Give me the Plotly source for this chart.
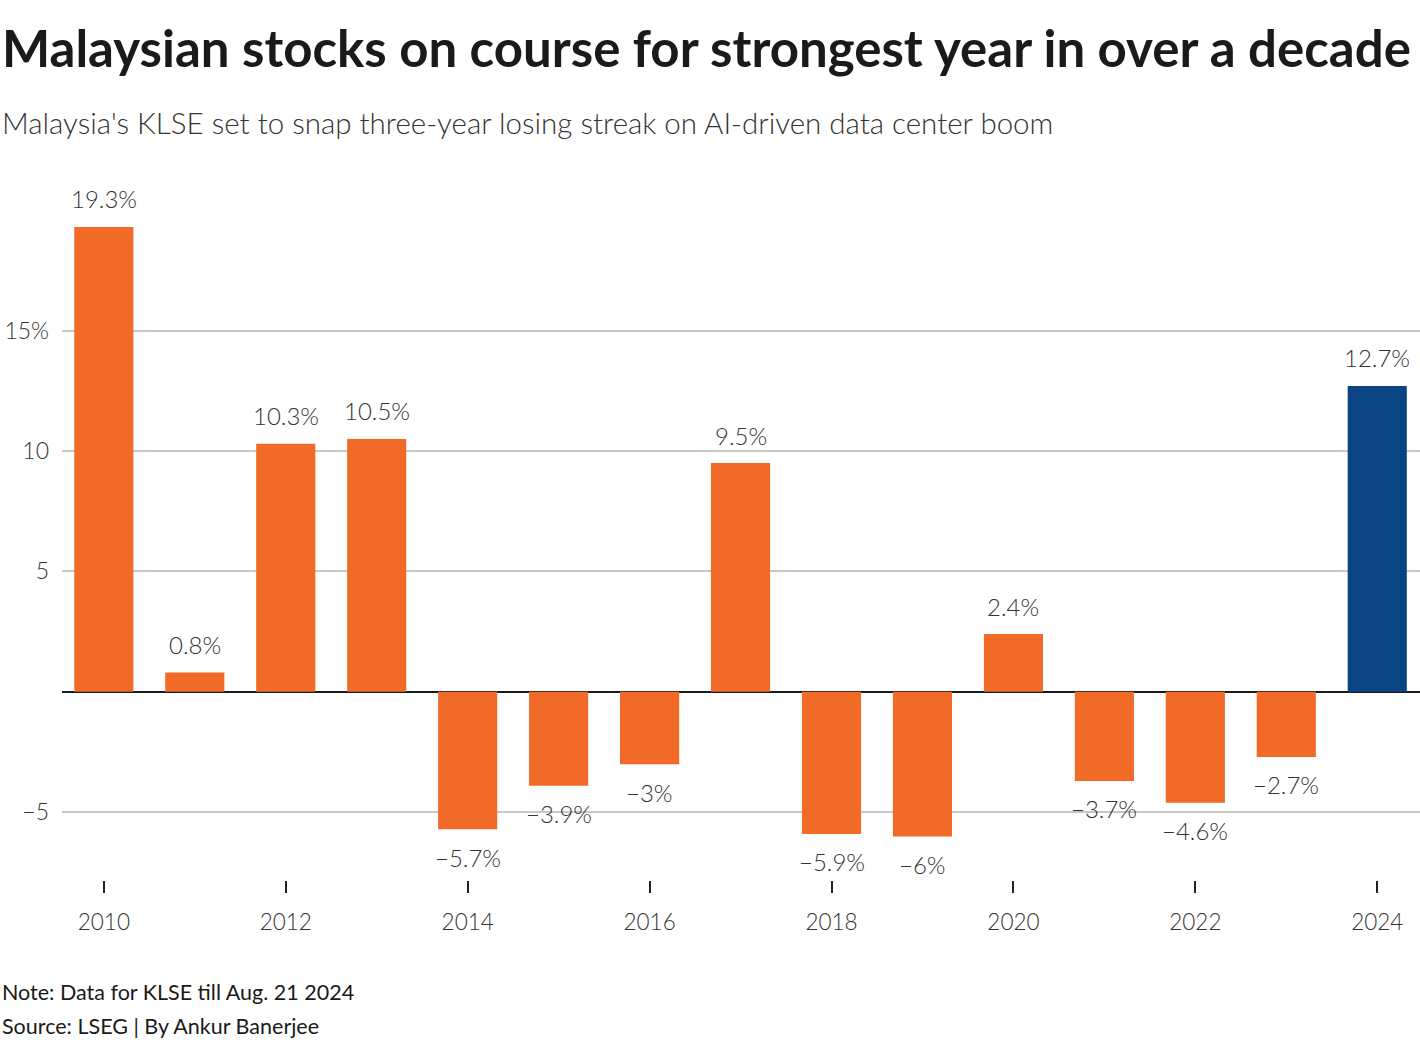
import plotly.graph_objects as go

years = list(range(2010, 2025))
returns = [19.3, 0.8, 10.3, 10.5, -5.7, -3.9, -3.0, 9.5, -5.9, -6.0, 2.4, -3.7, -4.6, -2.7, 12.7]
labels = ["19.3%", "0.8%", "10.3%", "10.5%", "\u22125.7%", "\u22123.9%", "\u22123%", "9.5%",
          "\u22125.9%", "\u22126%", "2.4%", "\u22123.7%", "\u22124.6%", "\u22122.7%", "12.7%"]
y_tickvals = [-5, 5, 10, 15]
y_ticktext = ["\u22125", "5", "10", "15%"]
x_tickvals = list(range(2010, 2025, 2))

ORANGE = "#f26a28"
BLUE = "#0b4485"
colors = [BLUE if y == 2024 else ORANGE for y in years]
FONT = "Lato"
TXT = "#333333"
LIGHT = 300

fig = go.Figure()
fig.add_trace(go.Bar(x=years, y=returns, marker_color=colors, marker_line_width=0,
                     hoverinfo="skip"))

W, H = 1420, 1048
L = 62
plot_w = W - L
TOP = 199
BOT = 880

fig.update_layout(
    width=W, height=H,
    margin=dict(l=L, r=0, t=TOP, b=H - BOT),
    paper_bgcolor="white", plot_bgcolor="white",
    showlegend=False,
    bargap=0.35,
    font=dict(family=FONT, size=22, color=TXT),
    xaxis=dict(range=[2009.54, 2024.47], tickvals=x_tickvals, ticks="outside", ticklen=12,
               tickwidth=2, tickcolor="#222222", showgrid=False, zeroline=False, showline=False,
               tickfont=dict(family=FONT, size=22.5, color=TXT, weight=LIGHT), ticklabelstandoff=10),
    yaxis=dict(range=[-7.81, 20.46], tickvals=y_tickvals, ticktext=y_ticktext,
               showgrid=True, gridcolor="#c8c8c8", gridwidth=2, zeroline=True,
               zerolinecolor="#1a1a1a", zerolinewidth=2, showline=False,
               tickfont=dict(family=FONT, size=23, color=TXT, weight=LIGHT), ticklabelstandoff=12),
)

fig.add_annotation(xref="paper", yref="paper", x=-L / plot_w, xanchor="left", y=1,
                   yanchor="middle", yshift=TOP - 47,
                   text="<b>Malaysian stocks on course for strongest year in over a decade</b>",
                   showarrow=False, font=dict(family=FONT, size=51, color="#1a1a1a"))
fig.add_annotation(xref="paper", yref="paper", x=-L / plot_w, xanchor="left", y=1,
                   yanchor="middle", yshift=TOP - 122,
                   text="Malaysia's KLSE set to snap three-year losing streak on AI-driven data center boom",
                   showarrow=False, font=dict(family=FONT, size=29.5, color=TXT, weight=LIGHT))
fig.add_annotation(xref="paper", yref="paper", x=-L / plot_w, xanchor="left", y=0,
                   yanchor="middle", yshift=-(992 - BOT),
                   text="Note: Data for KLSE till Aug. 21 2024",
                   showarrow=False, font=dict(family=FONT, size=21.5, color="#1a1a1a"))
fig.add_annotation(xref="paper", yref="paper", x=-L / plot_w, xanchor="left", y=0,
                   yanchor="middle", yshift=-(1026 - BOT),
                   text="Source: LSEG | By Ankur Banerjee",
                   showarrow=False, font=dict(family=FONT, size=21.5, color="#1a1a1a"))
for x, v, t in zip(years, returns, labels):
    fig.add_annotation(x=x, y=v, xref="x", yref="y", text=t, showarrow=False,
                       yanchor="middle", yshift=28 if v >= 0 else -28,
                       font=dict(family=FONT, size=24, color=TXT, weight=LIGHT))

fig.write_html("out.html", config={"displayModeBar": False},
               post_script="document.body.style.margin='0';")
